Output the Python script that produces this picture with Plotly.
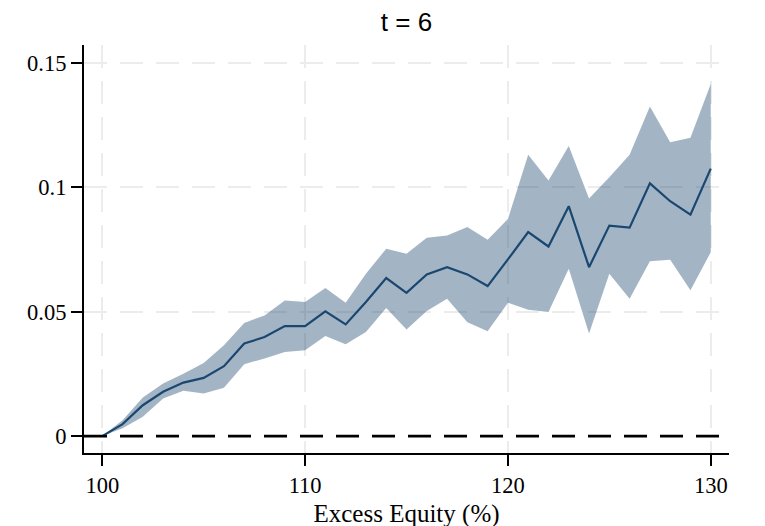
import plotly.graph_objects as go

excess_equity = list(range(100, 131))
estimate = [0.0, 0.0048, 0.0124, 0.0178, 0.0215, 0.0234, 0.0281, 0.0372, 0.0398, 0.0442,
            0.0442, 0.0501, 0.0449, 0.0539, 0.0635, 0.0576, 0.0650, 0.0679, 0.0650, 0.0603,
            0.0710, 0.0820, 0.0762, 0.0924, 0.0679, 0.0846, 0.0838, 0.1016, 0.0944, 0.0890,
            0.1075]
upper = [0.0, 0.0064, 0.0155, 0.0211, 0.0251, 0.0294, 0.0365, 0.0455, 0.0485, 0.0545,
         0.0539, 0.0595, 0.0536, 0.0653, 0.0753, 0.0733, 0.0797, 0.0806, 0.0840, 0.0789,
         0.0873, 0.1131, 0.1027, 0.1166, 0.0955, 0.1040, 0.1131, 0.1325, 0.1181, 0.1199,
         0.1415]
lower = [0.0, 0.0031, 0.0078, 0.0151, 0.0182, 0.0171, 0.0194, 0.0289, 0.0312, 0.0338,
         0.0345, 0.0402, 0.0369, 0.0418, 0.0515, 0.0428, 0.0503, 0.0552, 0.0458, 0.0421,
         0.0536, 0.0508, 0.0499, 0.0673, 0.0412, 0.0653, 0.0552, 0.0703, 0.0709, 0.0586,
         0.0739]
x_ticks = [100, 110, 120, 130]
y_ticks = [0, 0.05, 0.1, 0.15]
y_ticklabels = ["0", "0.05", "0.1", "0.15"]

SERIF = "Liberation Serif, Times New Roman, serif"
SANS = "Liberation Sans, Arial, sans-serif"

fig = go.Figure()
fig.add_trace(go.Scatter(x=excess_equity, y=upper, mode="lines", line=dict(width=0),
                         showlegend=False, hoverinfo="skip"))
fig.add_trace(go.Scatter(x=excess_equity, y=lower, mode="lines", line=dict(width=0),
                         fill="tonexty", fillcolor="rgba(26,71,111,0.4)",
                         showlegend=False, hoverinfo="skip"))
fig.add_trace(go.Scatter(x=excess_equity, y=estimate, mode="lines",
                         line=dict(color="#1a476f", width=2.2), showlegend=False))
fig.add_hline(y=0, line=dict(color="black", width=2.7, dash="23px,13px"), layer="above")

fig.update_layout(
    width=765, height=526,
    margin=dict(l=76, r=44, t=37, b=81),
    paper_bgcolor="white", plot_bgcolor="white",
    title=dict(text="t = 6", x=0.5, xanchor="center", xref="paper",
               y=0.9734, yanchor="middle",
               font=dict(family=SANS, size=26, color="black")),
    xaxis=dict(range=[99.1, 130.9], tickvals=x_ticks, ticks="outside", ticklen=11,
               tickwidth=2.2, tickcolor="black", showline=True, linecolor="black",
               linewidth=2.2, showgrid=True, gridcolor="#ececec", gridwidth=2.2,
               griddash="23px,13px", zeroline=False,
               title=dict(text="Excess Equity (%)", standoff=7,
                          font=dict(family=SERIF, size=25, color="black")),
               tickfont=dict(family=SERIF, size=22.5, color="black")),
    yaxis=dict(range=[-0.0068, 0.1572], tickvals=y_ticks, ticktext=y_ticklabels,
               ticks="outside", ticklen=11, tickwidth=2.2, tickcolor="black",
               showline=True, linecolor="black", linewidth=2.2, showgrid=True,
               gridcolor="#ececec", gridwidth=2.2, griddash="23px,13px", zeroline=False,
               tickfont=dict(family=SERIF, size=22.5, color="black")),
)

fig.write_html("out.html")
